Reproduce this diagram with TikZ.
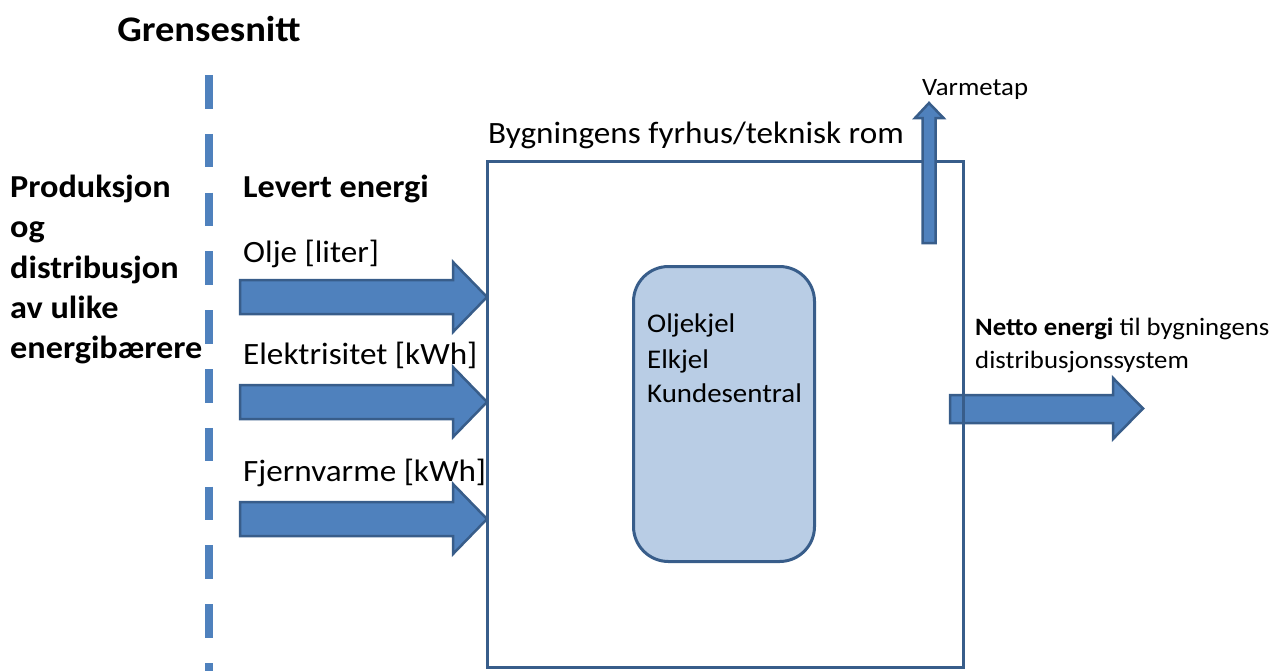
\documentclass[tikz,border=0pt]{standalone}
\usepackage{fontspec}
\setmainfont{Carlito}[FakeStretch=1.07]
\definecolor{afill}{HTML}{4F81BD}
\definecolor{aline}{HTML}{385D8A}
\definecolor{ifill}{HTML}{B9CDE5}
\begin{document}
\begin{tikzpicture}[x=1pt,y=-1pt,
  blockarrow/.style={fill=afill,draw=aline,line width=2.5pt,line join=miter},
  txt/.style={inner sep=0pt,anchor=base west,text=black},
  f36b/.style={font=\fontsize{36}{42}\selectfont\bfseries},
  f32b/.style={font=\fontsize{32}{40}\selectfont\bfseries},
  f31/.style={font=\fontsize{31}{37}\selectfont},
  f27/.style={font=\fontsize{27}{35}\selectfont},
  f25/.style={font=\fontsize{25}{33}\selectfont}]
\useasboundingbox (0,0) rectangle (1273,670);
% boundary
\node[txt,f36b,anchor=base] (grense) at (209,41) {Grensesnitt};
\coordinate (dtop) at (209,75);
\coordinate (dbot) at (209,672);
\draw[afill,line width=8.5pt,dash pattern=on 33.5pt off 25.3pt] (dtop) -- (dbot);
% left texts
\node[txt,f32b] (prod1) at (10,197) {Produksjon};
\node[txt,f32b] (prod2) at (10,237.5) {og};
\node[txt,f32b] (prod3) at (10,278) {distribusjon};
\node[txt,f32b] (prod4) at (10,318) {av ulike};
\node[txt,f32b] (prod5) at (10,358) {energibærere};
\node[txt,f32b] (levert) at (243,197) {Levert energi};
\node[txt,f31] (olje) at (243,262) {Olje [liter]};
\node[txt,f31] (el) at (243,364) {Elektrisitet [kWh]};
\node[txt,f31] (fj) at (243,481) {Fjernvarme [kWh]};
% incoming arrows
\foreach \cy in {297,402,519}{
  \draw[blockarrow] (240,\cy-17) -- (453,\cy-17) -- (453,\cy-35) -- (487,\cy) -- (453,\cy+35) -- (453,\cy+17) -- (240,\cy+17) -- cycle;
}
% outgoing arrow
\draw[blockarrow] (950,395) -- (1113,395) -- (1113,378) -- (1143,408.5) -- (1113,439) -- (1113,423) -- (950,423) -- cycle;
% room box
\node[txt,f31] (rom) at (488,143) {Bygningens fyrhus/teknisk rom};
\node[draw=aline,line width=3pt,minimum width=476pt,minimum height=506pt,inner sep=0pt,anchor=north west] (room) at (486,160) {};
% inner box
\node[draw=aline,fill=ifill,line width=3pt,rounded corners=35pt,minimum width=181pt,minimum height=295pt,inner sep=0pt,anchor=north west] (boiler) at (632,265) {};
\node[txt,f27] (b1) at (647,332) {Oljekjel};
\node[txt,f27] (b2) at (647,368) {Elkjel};
\node[txt,f27] (b3) at (647,402) {Kundesentral};
% heat loss arrow
\draw[blockarrow] (922.5,243) -- (922.5,118) -- (915,118) -- (929,103) -- (943.5,118) -- (935.5,118) -- (935.5,243) -- cycle;
\node[txt,f25] (tap) at (922,95) {Varmetap};
\node[txt,f25] (netto1) at (975,335) {\textbf{Netto energi} til bygningens};
\node[txt,f25] (netto2) at (975,368) {distribusjonssystem};
\end{tikzpicture}
\end{document}
